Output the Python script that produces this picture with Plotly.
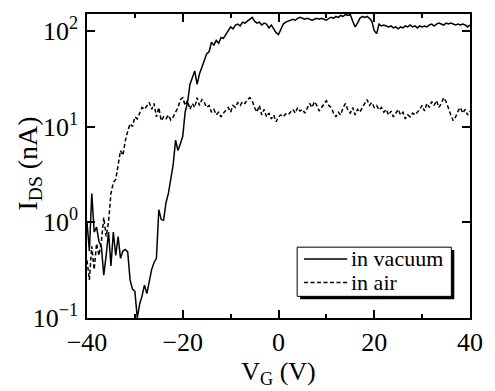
import plotly.graph_objects as go

# Gate voltage (V), 0.5 V steps
vg = [-40 + 0.5 * i for i in range(161)]

# Drain-source current in vacuum (nA)
i_vacuum = [
    1.0, 0.5, 2.0, 0.79, 0.89, 0.63, 0.56, 0.28, 0.45, 0.79,
    0.35, 0.79, 0.45, 0.71, 0.42, 0.5, 0.52, 0.49, 0.25, 0.2,
    0.19, 0.1, 0.14, 0.17, 0.22, 0.18, 0.24, 0.32, 0.38, 0.42,
    1.35, 1.07, 1.05, 1.6, 2.0, 2.75, 4.0, 7.2, 5.6, 6.6,
    7.9, 14.1, 17.8, 27.5, 31.6, 38.0, 27.5, 35.5, 41.7, 50.0,
    57.5, 60.3, 75.9, 70.8, 79.4, 74.0, 85.1, 83.2, 91.2, 100.0,
    109.6, 104.7, 114.8, 117.5, 112.2, 123.0, 120.2, 125.9, 131.8, 138.0,
    125.9, 120.2, 123.0, 114.8, 120.2, 117.5, 107.0, 114.8, 104.7, 95.5,
    91.2, 104.7, 117.5, 123.0, 125.9, 128.8, 131.8, 128.8, 134.9, 138.0,
    134.9, 131.8, 134.9, 131.8, 128.8, 131.8, 134.9, 131.8, 134.9, 131.8,
    128.8, 134.9, 138.0, 134.9, 141.0, 138.0, 144.5, 141.0, 148.0, 144.5,
    148.0, 125.9, 109.6, 120.2, 134.9, 141.0, 138.0, 141.0, 134.9, 125.9,
    100.0, 93.3, 117.5, 112.2, 114.8, 112.2, 109.6, 112.2, 107.0, 109.6,
    104.7, 109.6, 107.0, 112.2, 109.6, 114.8, 109.6, 112.2, 107.0, 112.2,
    109.6, 112.2, 109.6, 114.8, 117.5, 112.2, 117.5, 120.2, 117.5, 114.8,
    120.2, 117.5, 120.2, 117.5, 114.8, 117.5, 114.8, 117.5, 114.8, 109.6,
    114.8,
]

# Drain-source current in air (nA)
i_air = [
    0.4, 0.25, 0.56, 0.32, 0.6, 0.45, 0.63, 1.12, 0.71, 1.0,
    2.0, 2.6, 2.8, 4.0, 5.6, 5.0, 7.1, 8.9, 10.7, 10.0,
    12.6, 12.0, 14.1, 15.8, 15.1, 16.6, 17.8, 15.1, 17.4, 12.6,
    15.8, 11.5, 12.6, 12.0, 13.2, 11.7, 12.6, 14.1, 15.8, 19.1,
    20.0, 16.6, 18.6, 15.1, 17.4, 15.8, 20.0, 16.6, 19.1, 17.8,
    15.8, 16.6, 14.1, 15.1, 13.2, 14.1, 12.6, 13.8, 14.8, 15.8,
    14.1, 16.6, 15.8, 17.8, 16.6, 18.2, 17.4, 19.1, 20.0, 18.6,
    15.8, 14.1, 16.6, 13.2, 15.1, 12.6, 13.8, 12.0, 13.2, 11.2,
    12.6, 13.2, 12.6, 13.5, 13.2, 14.1, 15.1, 13.8, 15.8, 14.5,
    15.1, 13.8, 15.8, 17.4, 15.8, 18.2, 16.6, 14.5, 15.8, 17.4,
    18.6, 16.6, 15.8, 13.8, 12.6, 14.1, 13.2, 15.8, 17.4, 14.8,
    13.8, 15.8, 13.2, 15.1, 14.1, 15.8, 17.4, 19.1, 16.6, 17.8,
    15.8, 16.6, 14.8, 15.8, 14.1, 15.1, 13.2, 14.5, 12.6, 13.8,
    15.1, 13.2, 14.1, 12.0, 13.2, 12.6, 13.8, 13.2, 14.1, 15.1,
    16.6, 14.5, 17.4, 15.8, 18.2, 16.6, 18.6, 15.8, 17.4, 20.0,
    18.2, 15.1, 13.2, 11.5, 12.6, 14.5, 15.8, 13.8, 15.1, 13.2,
    14.5,
]

series_names = ["in vacuum", "in air"]
x_ticks = [-40, -20, 0, 20, 40]
x_tick_text = ["\u221240", "\u221220", "0", "20", "40"]
y_ticks = [0.1, 1, 10, 100]
y_tick_text = ["10<sup>\u22121</sup>", "10<sup>0</sup>", "10<sup>1</sup>", "10<sup>2</sup>"]
x_title = "V<sub>G</sub> (V)"
y_title = "I<sub>DS</sub> (nA)"

FONT = "Liberation Serif"
DASH = "4px,2.5px"

fig = go.Figure()
fig.add_trace(go.Scatter(x=vg, y=i_vacuum, mode="lines", name=series_names[0],
                         line=dict(color="black", width=1.5), showlegend=False))
fig.add_trace(go.Scatter(x=vg, y=i_air, mode="lines", name=series_names[1],
                         line=dict(color="black", width=1.5, dash=DASH), showlegend=False))

axis_common = dict(showline=True, linecolor="black", linewidth=1.5, mirror="ticks",
                   ticks="inside", tickcolor="black", tickwidth=1.5, ticklen=8,
                   showgrid=False, zeroline=False,
                   tickfont=dict(family=FONT, size=26, color="black"))

fig.update_xaxes(range=[-40, 40], tickvals=x_ticks, ticktext=x_tick_text,
                 minor=dict(ticks="inside", ticklen=4, tickwidth=1.5, dtick=10,
                            tick0=0, tickcolor="black", showgrid=False),
                 title=dict(text=x_title, font=dict(family=FONT, size=26, color="black"),
                            standoff=4),
                 **axis_common)
fig.update_yaxes(type="log", range=[-1, 2.175], tickvals=y_ticks, ticktext=y_tick_text,
                 ticklabelstandoff=2,
                 **axis_common)

# pixel positions converted to paper coordinates
PL, PW, PB, PH = 87, 390, 321, 309
def px(x):
    return (x - PL) / PW
def py(y):
    return (PB - y) / PH

shapes = [
    dict(type="rect", xref="paper", yref="paper", x0=px(304), x1=px(461), y0=py(302), y1=py(252),
         fillcolor="black", line=dict(width=0), layer="above"),
    dict(type="rect", xref="paper", yref="paper", x0=px(301), x1=px(458), y0=py(299), y1=py(249),
         fillcolor="white", line=dict(color="black", width=1), layer="above"),
    dict(type="line", xref="paper", yref="paper", x0=px(308), x1=px(352), y0=py(261), y1=py(261),
         line=dict(color="black", width=1.5), layer="above"),
    dict(type="line", xref="paper", yref="paper", x0=px(308), x1=px(352), y0=py(285), y1=py(285),
         line=dict(color="black", width=1.5, dash=DASH), layer="above"),
]
annotations = [
    dict(text=series_names[0], xref="paper", yref="paper", x=px(354), y=py(261),
         xanchor="left", yanchor="middle", showarrow=False,
         font=dict(family=FONT, size=22, color="black")),
    dict(text=series_names[1], xref="paper", yref="paper", x=px(354), y=py(285),
         xanchor="left", yanchor="middle", showarrow=False,
         font=dict(family=FONT, size=22, color="black")),
    # y-axis title
    dict(text=y_title, xref="paper", yref="paper", x=px(28), y=py(164),
         xanchor="center", yanchor="middle", textangle=-90, showarrow=False,
         font=dict(family=FONT, size=28, color="black")),
]

fig.update_layout(
    width=495, height=391,
    margin=dict(l=87, r=18, t=12, b=70),
    paper_bgcolor="white", plot_bgcolor="white",
    font=dict(family=FONT, color="black"),
    shapes=shapes, annotations=annotations,
    showlegend=False,
)

fig.write_html("out.html")
